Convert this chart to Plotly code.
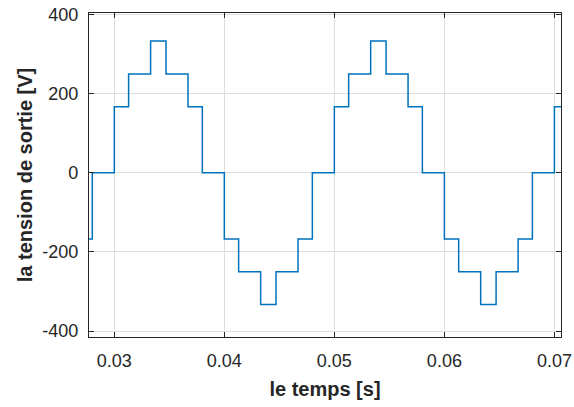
import plotly.graph_objects as go

# Staircase output voltage of the multilevel inverter (switching instants and levels)
t_switch = [0.0277, 0.0280, 0.0300, 0.0313, 0.0333, 0.0347, 0.0367, 0.0380,
            0.0400, 0.0413, 0.0433, 0.0447, 0.0467, 0.0480,
            0.0500, 0.0513, 0.0533, 0.0547, 0.0567, 0.0580,
            0.0600, 0.0613, 0.0633, 0.0647, 0.0667, 0.0680,
            0.0700, 0.0706]
v_level = [-167, 0, 167, 250, 333, 250, 167, 0,
           -167, -250, -333, -250, -167, 0,
           167, 250, 333, 250, 167, 0,
           -167, -250, -333, -250, -167, 0,
           167, 167]

x_ticks = [0.03, 0.04, 0.05, 0.06, 0.07]
y_ticks = [-400, -200, 0, 200, 400]

axis_col = "#262626"
font_fam = "Liberation Sans, Arial, sans-serif"

fig = go.Figure()
fig.add_trace(go.Scatter(
    x=t_switch, y=v_level, mode="lines", line_shape="hv",
    line=dict(color="#0072BD", width=1.5), showlegend=False,
))

common = dict(
    showline=True, linecolor=axis_col, linewidth=1.2, mirror="ticks",
    ticks="inside", ticklen=5, tickwidth=1, tickcolor=axis_col,
    showgrid=True, gridcolor="#dedede", gridwidth=1, zeroline=False,
    automargin=False,
    tickfont=dict(family=font_fam, size=18, color=axis_col),
)

fig.update_xaxes(
    range=[0.0277, 0.0706], tickvals=x_ticks,
    ticktext=[f"{v:.2f}" for v in x_ticks], ticklabelstandoff=7,
    title=dict(text="le temps [s]", standoff=12,
               font=dict(family=font_fam, size=20, color=axis_col, weight="bold")),
    **common,
)
fig.update_yaxes(
    range=[-415, 404], tickvals=y_ticks,
    ticktext=[str(v) for v in y_ticks], ticklabelstandoff=6,
    title=dict(text="la tension de sortie [V]", standoff=4,
               font=dict(family=font_fam, size=20, color=axis_col, weight="bold")),
    **common,
)

fig.update_layout(
    width=574, height=407,
    margin=dict(l=89, r=13, t=13, b=70),
    paper_bgcolor="white", plot_bgcolor="white",
)

fig.write_html("out.html")
